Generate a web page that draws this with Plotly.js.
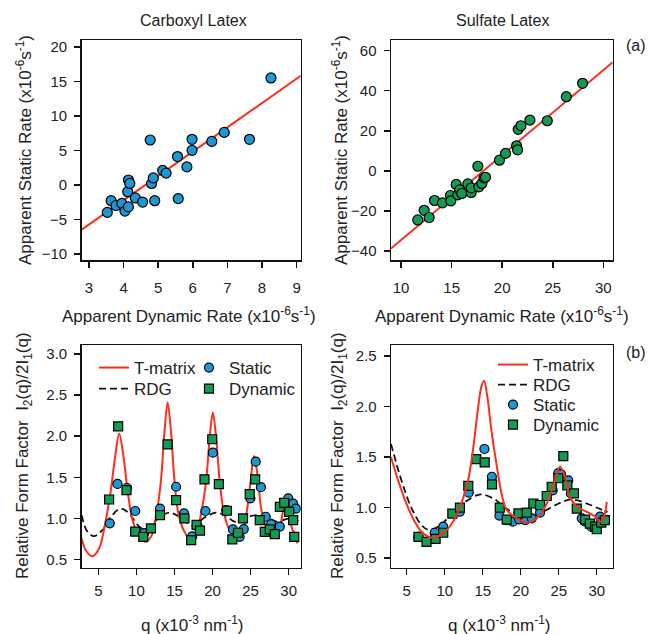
<!DOCTYPE html>
<html>
<head>
<meta charset="utf-8">
<script src="https://cdn.plot.ly/plotly-3.0.1.min.js"></script>
<style>
  html, body { margin: 0; padding: 0; background: #fff; }
  #chart { width: 649px; height: 634px; }
</style>
</head>
<body>
<div id="chart"></div>
<script>
// ---- (a) apparent static vs dynamic aggregation rates ----
const carbDyn = [3.53, 3.64, 3.78, 3.95, 4.04, 4.14, 4.12, 4.14, 4.18, 4.34, 4.55, 4.77, 4.81, 4.86, 4.90, 5.13, 5.23, 5.56, 5.58, 5.83, 5.98, 5.98, 6.55, 6.91, 7.64, 8.26];
const carbSta = [-4.0, -2.3, -3.0, -2.7, -3.8, -3.2, -1.0, 0.7, 0.2, -1.9, -2.5, 6.5, 0.2, 1.0, -2.3, 2.1, 1.7, 4.1, -2.0, 2.6, 6.6, 5.0, 6.3, 7.6, 6.6, 15.5];
const carbFitX = [2.79, 9.12];
const carbFitY = [-6.5, 15.8];

const sulfDyn = [11.65, 12.28, 12.77, 13.30, 14.09, 14.88, 14.92, 15.45, 15.61, 15.8, 16.01, 16.60, 16.93, 16.93, 17.59, 17.69, 17.99, 18.2, 18.35, 19.73, 20.33, 21.42, 21.52, 21.58, 21.85, 22.74, 24.46, 26.34, 27.95];
const sulfSta = [-24.5, -19.7, -23.3, -14.8, -16.0, -12.3, -15.0, -6.8, -12.0, -9.5, -11.3, -6.5, -10.8, -8.5, 2.3, -8.0, -6.3, -3.5, -3.2, 5.3, 8.7, 12.5, 10.5, 20.7, 22.5, 25.3, 25.0, 37.0, 43.7];
const sulfFitX = [9.0, 30.93];
const sulfFitY = [-38.8, 54.2];

// ---- (b) relative form factor, carboxyl latex ----
const carbTmQ = [2.81, 3.34, 4.21, 5.09, 5.98, 6.64, 7.2, 7.73, 8.3, 8.83, 9.49, 10.37, 11.16, 11.91, 12.65, 13.23, 13.67, 14.1, 14.55, 14.99, 15.51, 16.31, 17.2, 17.85, 18.5, 19.17, 19.6, 20.04, 20.49, 20.92, 21.36, 22.02, 22.9, 23.79, 24.45, 24.97, 25.45, 25.98, 26.42, 27.08, 28.18, 28.84, 29.27, 29.63, 30.07, 30.51, 30.82, 31.12];
const carbTmF = [0.756, 0.613, 0.54, 0.634, 0.98, 1.345, 1.75, 2.03, 1.75, 1.345, 0.98, 0.776, 0.715, 0.776, 1.06, 1.47, 2.04, 2.41, 2.04, 1.47, 1.06, 0.837, 0.74, 0.817, 1.06, 1.47, 1.955, 2.29, 1.955, 1.47, 1.14, 0.90, 0.784, 0.817, 1.06, 1.43, 1.76, 1.47, 1.10, 0.90, 0.808, 0.90, 1.10, 1.24, 1.06, 0.857, 0.825, 0.695];
const carbRdgQ = [2.81, 3.55, 4.43, 5.53, 6.64, 7.95, 9.05, 10.15, 11.03, 12.12, 13.44, 14.33, 15.65, 17.4, 18.94, 20.49, 21.8, 22.9, 24.66, 25.98, 27.52, 28.4, 30.16, 31.48];
const carbRdgF = [1.04, 0.84, 0.784, 0.857, 1.02, 1.12, 1.06, 0.92, 0.866, 0.94, 1.04, 1.07, 1.02, 0.91, 1.01, 1.07, 1.03, 0.96, 1.02, 1.04, 1.0, 0.96, 1.0, 0.96];
const carbStaQ = [6.5, 7.51, 8.75, 9.84, 11.0, 13.1, 15.21, 16.25, 17.32, 18.06, 19.06, 20.04, 21.8, 22.68, 23.56, 24.1, 24.97, 25.67, 26.35, 26.99, 27.7, 28.84, 29.94, 30.59, 30.95];
const carbStaF = [0.94, 1.42, 1.37, 1.09, 0.82, 1.12, 1.385, 1.06, 0.78, 0.90, 1.09, 1.80, 1.10, 0.866, 0.776, 0.87, 1.244, 1.69, 1.38, 1.02, 0.93, 0.90, 1.244, 1.18, 1.12];
const carbDynQ = [6.41, 7.6, 8.69, 9.84, 10.9, 11.91, 13.1, 14.1, 15.21, 16.31, 17.19, 17.9, 18.35, 18.94, 19.96, 20.83, 21.89, 22.6, 23.34, 24.0, 24.88, 25.6, 26.2, 26.86, 27.52, 28.18, 28.84, 29.41, 30.07, 30.59, 30.73];
const carbDynF = [1.23, 2.12, 1.345, 0.84, 0.776, 0.878, 1.04, 1.90, 1.223, 1.0, 0.735, 0.92, 0.85, 1.476, 1.963, 1.418, 1.093, 0.744, 0.825, 1.0, 1.296, 1.476, 0.98, 0.837, 0.866, 0.808, 1.14, 1.19, 1.08, 0.98, 0.776];

// ---- (b) relative form factor, sulfate latex ----
const sulfTmQ = [2.93, 3.86, 4.95, 6.05, 7.14, 8.46, 9.78, 11.09, 12.18, 13.07, 13.72, 14.29, 14.82, 15.17, 15.6, 16.13, 16.79, 17.5, 18.16, 19.47, 20.79, 22.1, 23.42, 24.29, 25.17, 25.83, 26.49, 27.37, 28.68, 29.78, 30.53, 30.96, 31.32];
const sulfTmF = [1.50, 1.27, 1.04, 0.86, 0.744, 0.70, 0.744, 0.86, 1.04, 1.27, 1.57, 1.93, 2.196, 2.256, 2.10, 1.77, 1.44, 1.13, 0.975, 0.893, 0.85, 0.893, 1.04, 1.22, 1.404, 1.305, 1.107, 1.008, 0.958, 0.91, 0.86, 0.91, 1.057];
const sulfRdgQ = [2.93, 4.3, 5.6, 6.9, 7.8, 9.1, 10.9, 12.6, 14.2, 15.0, 16.6, 17.7, 18.8, 20.3, 21.8, 23.0, 25.0, 26.6, 27.5, 29.0, 30.3, 31.4];
const sulfRdgF = [1.63, 1.27, 1.0, 0.83, 0.78, 0.81, 0.93, 1.05, 1.12, 1.13, 1.08, 1.01, 0.96, 0.915, 0.92, 0.96, 1.04, 1.08, 1.07, 1.03, 0.99, 0.955];
const sulfStaQ = [6.5, 8.68, 9.8, 11.97, 13.16, 15.22, 16.2, 17.2, 18.16, 18.95, 19.78, 20.6, 21.45, 22.54, 24.21, 24.95, 25.3, 26.26, 26.6, 28.03, 28.5, 29.3, 30.43];
const sulfStaF = [0.71, 0.75, 0.81, 0.958, 1.147, 1.58, 1.305, 0.92, 0.876, 0.86, 0.883, 0.876, 0.893, 0.95, 1.17, 1.34, 1.33, 1.27, 1.14, 0.893, 0.86, 0.81, 0.91];
const sulfDynQ = [6.55, 7.6, 8.8, 9.8, 11.0, 12.0, 13.1, 14.16, 15.26, 16.22, 17.24, 18.16, 19.7, 20.79, 21.66, 22.54, 23.42, 24.08, 24.95, 25.6, 26.13, 27.0, 27.37, 28.47, 29.1, 29.78, 30.0, 30.6, 31.07];
const sulfDynF = [0.71, 0.66, 0.69, 0.75, 0.94, 1.0, 1.215, 1.48, 1.447, 1.23, 1.0, 0.88, 0.942, 0.95, 1.04, 1.025, 1.114, 1.206, 1.29, 1.51, 1.22, 1.14, 0.99, 0.88, 0.84, 0.81, 0.785, 0.85, 0.876];

const BLUE = '#1e98d4';
const GREEN = '#139a55';
const RED = '#ff2d1a';
const W = 649, H = 634;
const px = v => v / W;          // pixel -> paper x
const py = v => 1 - v / H;      // pixel -> paper y

const circle = (color, size) => ({ symbol: 'circle', size: size, color: color, line: { color: '#000', width: 1.2 } });
const square = (color, size) => ({ symbol: 'square', size: size, color: color, line: { color: '#000', width: 1.2 } });
const tmLine = { color: RED, width: 2, shape: 'spline', smoothing: 1 };
const rdgLine = { color: '#111', width: 1.8, dash: '7px,4px', shape: 'spline', smoothing: 1 };

const traces = [
  // (a) carboxyl
  { x: carbFitX, y: carbFitY, xaxis: 'x', yaxis: 'y', mode: 'lines', line: { color: RED, width: 2 }, showlegend: false },
  { x: carbDyn, y: carbSta, xaxis: 'x', yaxis: 'y', mode: 'markers', marker: circle(BLUE, 10), showlegend: false },
  // (a) sulfate
  { x: sulfFitX, y: sulfFitY, xaxis: 'x2', yaxis: 'y2', mode: 'lines', line: { color: RED, width: 2 }, showlegend: false },
  { x: sulfDyn, y: sulfSta, xaxis: 'x2', yaxis: 'y2', mode: 'markers', marker: circle(GREEN, 10), showlegend: false },
  // (b) carboxyl: one single-entry legend per item (2 x 2 grid)
  { x: carbRdgQ, y: carbRdgF, xaxis: 'x3', yaxis: 'y3', mode: 'lines', name: 'RDG', legend: 'legend2', line: rdgLine },
  { x: carbTmQ, y: carbTmF, xaxis: 'x3', yaxis: 'y3', mode: 'lines', name: 'T-matrix', legend: 'legend', line: tmLine },
  { x: carbStaQ, y: carbStaF, xaxis: 'x3', yaxis: 'y3', mode: 'markers', name: 'Static', legend: 'legend3', marker: circle(BLUE, 9) },
  { x: carbDynQ, y: carbDynF, xaxis: 'x3', yaxis: 'y3', mode: 'markers', name: 'Dynamic', legend: 'legend4', marker: square(GREEN, 9) },
  // (b) sulfate: stacked single-entry legends
  { x: sulfRdgQ, y: sulfRdgF, xaxis: 'x4', yaxis: 'y4', mode: 'lines', name: 'RDG', legend: 'legend6', line: rdgLine },
  { x: sulfStaQ, y: sulfStaF, xaxis: 'x4', yaxis: 'y4', mode: 'markers', name: 'Static', legend: 'legend7', marker: circle(BLUE, 9) },
  { x: sulfDynQ, y: sulfDynF, xaxis: 'x4', yaxis: 'y4', mode: 'markers', name: 'Dynamic', legend: 'legend8', marker: square(GREEN, 9) },
  { x: sulfTmQ, y: sulfTmF, xaxis: 'x4', yaxis: 'y4', mode: 'lines', name: 'T-matrix', legend: 'legend5', line: tmLine }
];

function axis(domain, range, tick0, dtick, fmt, anchor, standoff) {
  return {
    domain: domain, range: range, tick0: tick0, dtick: dtick, tickformat: fmt, anchor: anchor,
    showline: true, mirror: true, linecolor: '#111', linewidth: 1.5,
    ticks: 'outside', ticklen: 6, tickwidth: 1.5, tickcolor: '#111',
    ticklabelstandoff: standoff,
    showgrid: false, zeroline: false,
    tickfont: { size: 15, color: '#222' }
  };
}

const xTop = [px(81.7), px(300.7)];
const xTopR = [px(391), px(612.7)];
const yTop = [py(260), py(40)];
const yBot = [py(567.7), py(345)];

// a single-entry legend whose item is centred on pixel row cy, starting at pixel column x0
function legendAt(x0, cy) {
  return {
    x: px(x0), y: py(cy - 15), xanchor: 'left', yanchor: 'top',
    bgcolor: 'rgba(0,0,0,0)', borderwidth: 0, font: { size: 17, color: '#222' },
    tracegroupgap: 0, itemwidth: 30
  };
}

const rateUnit = ' (x10<sup>-6</sup>s<sup>-1</sup>)';
const qTitle = 'q (x10<sup>-3</sup> nm<sup>-1</sup>)';
const ffTitle = 'Relative Form Factor&nbsp; I<sub>2</sub>(q)/2I<sub>1</sub>(q)';

function label(text, x, y, opts) {
  return Object.assign({ text: text, x: px(x), y: py(y), xref: 'paper', yref: 'paper', showarrow: false,
    xanchor: 'center', yanchor: 'middle', font: { size: 17, color: '#222' } }, opts || {});
}

const layout = {
  width: W, height: H,
  margin: { l: 0, r: 0, t: 0, b: 0 },
  paper_bgcolor: '#fff', plot_bgcolor: '#fff',
  font: { family: '"Liberation Sans", Arial, sans-serif', color: '#222' },
  xaxis: axis(xTop, [2.79, 9.12], 3, 1, null, 'y', 7),
  yaxis: axis(yTop, [-10.9, 21], -10, 5, null, 'x', 4),
  xaxis2: axis(xTopR, [9.0, 30.93], 10, 5, null, 'y2', 7),
  yaxis2: axis(yTop, [-44.5, 65.3], -40, 20, null, 'x2', 4),
  xaxis3: axis(xTop, [2.81, 31.58], 5, 5, null, 'y3', 3),
  yaxis3: axis(yBot, [0.40, 3.11], 0.5, 0.5, '.1f', 'x3', 4),
  xaxis4: axis(xTopR, [2.93, 32.1], 5, 5, null, 'y4', 3),
  yaxis4: axis(yBot, [0.404, 2.61], 0.5, 0.5, '.1f', 'x4', 4),
  legend: legendAt(94, 365),
  legend2: legendAt(94, 386),
  legend3: legendAt(189, 365),
  legend4: legendAt(189, 386),
  legend5: legendAt(493, 362),
  legend6: legendAt(493, 382),
  legend7: legendAt(493, 402),
  legend8: legendAt(493, 422),
  annotations: [
    label('Carboxyl Latex', 193, 20, { font: { size: 16, color: '#222' } }),
    label('Sulfate Latex', 502, 20, { font: { size: 16, color: '#222' } }),
    label('(a)', 636, 45, { font: { size: 16, color: '#222' } }),
    label('(b)', 636, 352, { font: { size: 16, color: '#222' } }),
    label('Apparent Dynamic Rate' + rateUnit, 189, 315),
    label('Apparent Dynamic Rate' + rateUnit, 502, 315),
    label(qTitle, 192, 624),
    label(qTitle, 499, 624),
    label('Apparent Static Rate' + rateUnit, 24, 150, { textangle: -90 }),
    label('Apparent Static Rate' + rateUnit, 340, 150, { textangle: -90 }),
    label(ffTitle, 24, 456, { textangle: -90 }),
    label(ffTitle, 339, 456, { textangle: -90 })
  ]
};

Plotly.newPlot('chart', traces, layout, { staticPlot: true, displayModeBar: false });
</script>
</body>
</html>
